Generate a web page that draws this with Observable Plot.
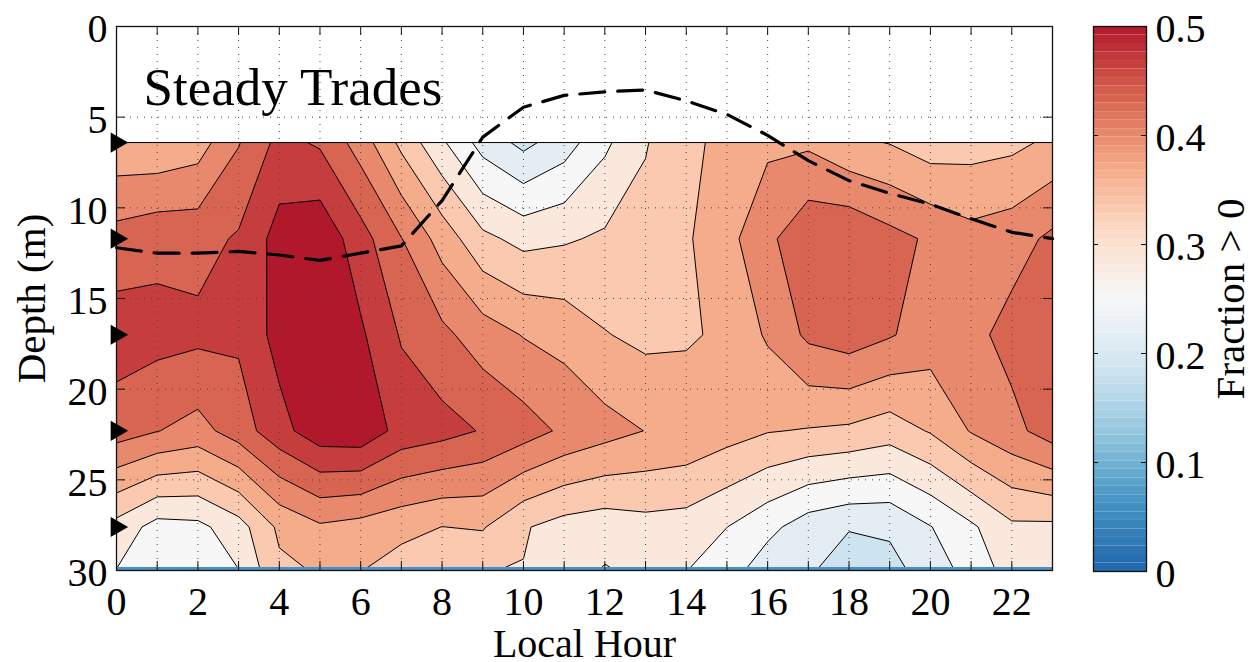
<!DOCTYPE html>
<html>
<head>
<meta charset="utf-8">
<script src="https://cdn.jsdelivr.net/npm/d3@7"></script>
<script src="https://cdn.jsdelivr.net/npm/@observablehq/plot@0.6"></script>
<style>
  html, body { margin: 0; padding: 0; background: #fff; }
  #chart { position: relative; width: 1253px; height: 662px; overflow: hidden; background: #fff; }
  #chart > svg { position: absolute; top: 0; }
</style>
</head>
<body>
<div id="chart"></div>
<script>
// ---------------- data ----------------
const hours = [0,1,2,3,4,5,6,7,8,9,10,11,12,13,14,15,16,17,18,19,20,21,22,23];
// sensor depths (m); last row lies below the plotted range
const depths = [6.4, 11.7, 17.0, 22.3, 27.6, 32.9];
const instrumentDepths = [6.4, 11.7, 17.0, 22.3, 27.6];

// fraction > 0, one array per depth, hours 0..23
const frac_6_4  = [0.342,0.340,0.351,0.398,0.443,0.429,0.385,0.325,0.272,0.220,0.191,0.217,0.260,0.298,0.323,0.345,0.360,0.361,0.340,0.332,0.316,0.320,0.325,0.340];
const frac_11_7 = [0.413,0.423,0.422,0.437,0.480,0.492,0.447,0.401,0.353,0.308,0.290,0.296,0.305,0.310,0.329,0.356,0.392,0.426,0.430,0.411,0.395,0.378,0.386,0.407];
const frac_17_0 = [0.450,0.445,0.441,0.439,0.479,0.490,0.472,0.430,0.408,0.383,0.365,0.355,0.335,0.325,0.328,0.341,0.371,0.407,0.418,0.403,0.384,0.390,0.412,0.420];
const frac_22_3 = [0.416,0.401,0.388,0.416,0.455,0.487,0.490,0.455,0.445,0.431,0.415,0.394,0.379,0.366,0.360,0.347,0.335,0.331,0.327,0.316,0.336,0.369,0.390,0.416];
const frac_27_6 = [0.288,0.254,0.258,0.286,0.340,0.362,0.354,0.343,0.333,0.336,0.303,0.287,0.281,0.288,0.285,0.267,0.243,0.216,0.204,0.205,0.232,0.261,0.294,0.293];
const frac_32_9 = [0.239,0.240,0.240,0.242,0.309,0.310,0.310,0.289,0.300,0.268,0.294,0.263,0.244,0.255,0.246,0.218,0.180,0.187,0.122,0.172,0.195,0.226,0.263,0.265];

// dashed line depth (m), hours 0..23
const mixedLayerDepth = [12.2,12.5,12.5,12.4,12.6,12.9,12.5,12.1,9.6,6.1,4.45,3.8,3.6,3.5,4.1,4.85,6.0,7.4,8.5,9.2,9.8,10.6,11.35,11.7];

const contourLevels = [0.1333,0.1667,0.2,0.2333,0.2667,0.3,0.3333,0.3667,0.4,0.4333,0.4667];
const xTickLabels = [0,2,4,6,8,10,12,14,16,18,20,22];
const yTicks = [0,5,10,15,20,25,30];
const cbTicks = [0,0.1,0.2,0.3,0.4,0.5];
const xDomain = [0, 23];
const yDomain = [0, 30];
const titleText = "Steady Trades";
const xLabel = "Local Hour";
const yLabel = "Depth (m)";
const cbLabel = "Fraction > 0";

// ---------------- styling helpers ----------------
const gridValues = [frac_6_4, frac_11_7, frac_17_0, frac_22_3, frac_27_6, frac_32_9].flat();
const dz = depths[1] - depths[0];
const step = contourLevels[1] - contourLevels[0];
const cmapStops = ["#2166ac","#4393c3","#92c5de","#d1e5f0","#f7f7f7","#fddbc7","#f4a582","#d6604d","#b2182b"];
const cmap = d3.piecewise(d3.interpolateRgb, cmapStops);
const vmax = cbTicks[cbTicks.length - 1];
const colorAt = v => cmap(Math.max(0, Math.min(1, v / vmax)));
// colour sampled for each filled band (style)
const bandColorAt = [0.15, 0.1833, 0.2167, 0.25, 0.2833, 0.3333, 0.3667, 0.4, 0.4333, 0.4667, 0.5];
const cbN = 64;
const cbSteps = d3.range(cbN).map(i => ({lo: i * vmax / cbN, hi: (i + 1) * vmax / cbN, color: colorAt((i + 0.5) * vmax / cbN)}));

const font = '"Liberation Serif", "Times New Roman", serif';
const W = 1060, H = 662, mL = 116, mR = 8, mT = 26, mB = 92;
const frameW = W - mL - mR, frameH = H - mT - mB;
const tickLen = 9;

const main = Plot.plot({
  width: W, height: H,
  marginLeft: mL, marginRight: mR, marginTop: mT, marginBottom: mB,
  style: {fontFamily: font, fontSize: "40px", background: "transparent", overflow: "visible", color: "#000"},
  x: {domain: xDomain},
  y: {domain: yDomain, reverse: true},
  color: {
    type: "threshold",
    domain: contourLevels.slice(1).map(l => l - step / 2),
    range: bandColorAt.map(colorAt)
  },
  marks: [
    Plot.contour(gridValues, {
      x1: hours[0] - 0.5, x2: hours[hours.length - 1] + 0.5,
      y1: depths[0] - dz / 2, y2: depths[depths.length - 1] + dz / 2,
      width: hours.length, height: depths.length,
      thresholds: contourLevels,
      fill: Plot.identity, stroke: "black", strokeWidth: 1, clip: true
    }),
    Plot.rect([depths[0]], {x1: () => xDomain[0], x2: () => xDomain[1], y1: () => yDomain[0], y2: d => d, fill: "white"}),
    Plot.ruleY([depths[0]], {y: d => d, stroke: "black", strokeWidth: 1}),
    Plot.ruleY([yDomain[1]], {y: d => d, stroke: "#4a90c8", strokeWidth: 3, dy: -2}),
    Plot.ruleX(hours, {x: d => d, stroke: "#444", strokeWidth: 1, strokeDasharray: "1,6"}),
    Plot.ruleY(yTicks, {y: d => d, stroke: "#444", strokeWidth: 1, strokeDasharray: "1,6"}),
    Plot.line(hours, {x: d => d, y: (d, i) => mixedLayerDepth[i], stroke: "black", strokeWidth: 3.2, strokeDasharray: "25,13"}),
    Plot.frame({stroke: "#111", strokeWidth: 1.3}),
    Plot.tickX(hours, {x: d => d, insetTop: frameH - tickLen, stroke: "#111"}),
    Plot.tickX(hours, {x: d => d, insetBottom: frameH - tickLen, stroke: "#111"}),
    Plot.tickY(yTicks, {y: d => d, insetRight: frameW - tickLen, stroke: "#111"}),
    Plot.tickY(yTicks, {y: d => d, insetLeft: frameW - tickLen, stroke: "#111"}),
    Plot.axisX(xTickLabels, {anchor: "bottom", tickSize: 0, tickPadding: 16, label: null}),
    Plot.axisY(yTicks, {anchor: "left", tickSize: 0, tickPadding: 9, label: null, dy: 3}),
    Plot.text([titleText], {frameAnchor: "top-left", textAnchor: "start", lineAnchor: "bottom", dx: 27, dy: 78, fontSize: 53}),
    Plot.text([xLabel], {frameAnchor: "bottom", textAnchor: "middle", lineAnchor: "bottom", dy: 86, fontSize: 40}),
    Plot.text([yLabel], {frameAnchor: "left", textAnchor: "middle", rotate: -90, dx: -85, fontSize: 41}),
    Plot.dot(instrumentDepths, {x: () => hours[0], y: d => d, symbol: "triangle", rotate: 90, r: 7.5, fill: "black", stroke: null})
  ]
});
main.style.left = "0px";

const CW = 193, cmL = 33, cmR = 107, cmB = H - 571;
const cbW = CW - cmL - cmR;
const cbar = Plot.plot({
  width: CW, height: H,
  marginLeft: cmL, marginRight: cmR, marginTop: mT, marginBottom: cmB,
  style: {fontFamily: font, fontSize: "40px", background: "transparent", overflow: "visible", color: "#000"},
  y: {domain: [cbTicks[0], vmax]},
  marks: [
    Plot.rect(cbSteps, {y1: "lo", y2: "hi", fill: "color"}),
    Plot.frame({stroke: "#111", strokeWidth: 1.3}),
    Plot.tickY(cbTicks, {y: d => d, insetRight: cbW - 5, stroke: "#111"}),
    Plot.tickY(cbTicks, {y: d => d, insetLeft: cbW - 5, stroke: "#111"}),
    Plot.axisY(cbTicks, {anchor: "right", tickSize: 0, tickPadding: 9, label: null, tickFormat: d => String(d), dy: 3}),
    Plot.text([cbLabel], {frameAnchor: "right", textAnchor: "middle", rotate: -90, dx: 84, fontSize: 41})
  ]
});
cbar.style.left = "1060px";

const chart = document.getElementById("chart");
chart.appendChild(main);
chart.appendChild(cbar);
</script>
</body>
</html>
